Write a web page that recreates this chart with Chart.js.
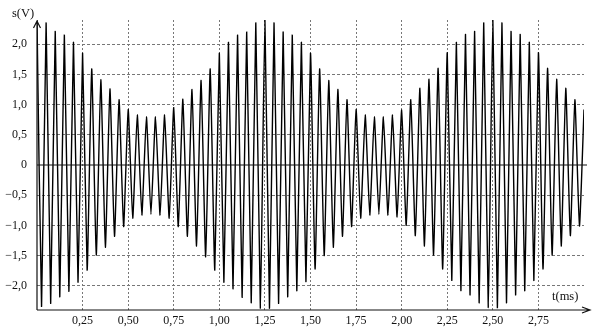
<!DOCTYPE html>
<html>
<head>
<meta charset="utf-8">
<script src="https://cdn.jsdelivr.net/npm/chart.js@4"></script>
<style>
  html, body { margin: 0; padding: 0; background: #fff; }
  #chart { display: block; }
</style>
</head>
<body>
<canvas id="chart" width="600" height="331"></canvas>
<script>
// crest values (V), one every 0.05 ms from t = 0
const peakValues = [
  2.41, 2.35, 2.21, 2.15, 2.03, 1.85, 1.59, 1.41, 1.26, 1.08,
  0.92, 0.83, 0.80, 0.80, 0.83, 0.95, 1.09, 1.25, 1.40, 1.59,
  1.85, 2.03, 2.15, 2.20, 2.35, 2.41, 2.35, 2.20, 2.15, 2.03,
  1.85, 1.59, 1.40, 1.25, 1.08, 0.92, 0.83, 0.80, 0.80, 0.83,
  0.91, 1.08, 1.27, 1.42, 1.60, 1.86, 2.03, 2.16, 2.21, 2.35,
  2.41, 2.35, 2.21, 2.16, 2.03, 1.86, 1.60, 1.42, 1.27, 1.08,
  0.92
];
// trough values (V), one every 0.05 ms from t = 0.025
const troughValues = [
  -2.34, -2.29, -2.18, -2.09, -1.94, -1.74, -1.49, -1.36, -1.18, -1.02,
  -0.88, -0.83, -0.82, -0.83, -0.88, -1.02, -1.18, -1.34, -1.52, -1.74,
  -1.94, -2.05, -2.19, -2.28, -2.37, -2.37, -2.29, -2.18, -2.08, -1.93,
  -1.72, -1.50, -1.36, -1.18, -1.02, -0.88, -0.83, -0.82, -0.83, -0.86,
  -1.00, -1.17, -1.34, -1.49, -1.72, -1.91, -2.08, -2.15, -2.28, -2.36,
  -2.36, -2.28, -2.15, -2.08, -1.91, -1.72, -1.49, -1.34, -1.17, -1.01
];
const carrierPeriod = 0.05; // ms between crests
const xTicks = [0.25, 0.5, 0.75, 1, 1.25, 1.5, 1.75, 2, 2.25, 2.5, 2.75];
const yTicks = [-2, -1.5, -1, -0.5, 0, 0.5, 1, 1.5, 2];

const points = [];
peakValues.forEach((v, k) => {
  points.push({ x: k * carrierPeriod, y: v });
  if (k < troughValues.length) {
    points.push({ x: k * carrierPeriod + carrierPeriod / 2, y: troughValues[k] });
  }
});

const fontFace = '"Liberation Serif", "DejaVu Serif", serif';
const ink = '#111';

const axesPlugin = {
  id: 'axes',
  afterDraw(chart) {
    const { ctx, chartArea } = chart;
    const xs = chart.scales.x, ys = chart.scales.y;
    const x0 = xs.getPixelForValue(0);
    const y0 = ys.getPixelForValue(0);
    ctx.save();
    ctx.strokeStyle = ink;
    ctx.lineWidth = 1.2;
    // zero line
    ctx.beginPath();
    ctx.moveTo(x0, y0);
    ctx.lineTo(chartArea.right + 3, y0);
    ctx.stroke();
    // vertical axis with arrow
    const top = chartArea.top + 1;
    ctx.beginPath();
    ctx.moveTo(x0, chartArea.bottom);
    ctx.lineTo(x0, top);
    ctx.moveTo(x0 - 3.5, top + 7);
    ctx.lineTo(x0, top);
    ctx.lineTo(x0 + 3.5, top + 7);
    ctx.stroke();
    // horizontal axis with arrow
    const tip = chartArea.right + 6;
    const yb = chartArea.bottom;
    ctx.beginPath();
    ctx.moveTo(x0, yb);
    ctx.lineTo(tip, yb);
    ctx.moveTo(tip - 8, yb - 3);
    ctx.lineTo(tip, yb);
    ctx.lineTo(tip - 8, yb + 3);
    ctx.stroke();
    // axis titles
    ctx.fillStyle = ink;
    ctx.font = '12.5px ' + fontFace;
    ctx.textBaseline = 'middle';
    ctx.textAlign = 'left';
    ctx.fillText('s(V)', 12, 14);
    ctx.fillText('t(ms)', 552, 297);
    ctx.restore();
  }
};

new Chart(document.getElementById('chart'), {
  type: 'line',
  data: {
    datasets: [{
      data: points,
      borderColor: '#000',
      borderWidth: 1.4,
      pointRadius: 0,
      tension: 0.15,
      fill: false
    }]
  },
  options: {
    responsive: false,
    animation: false,
    devicePixelRatio: 1,
    layout: { padding: { top: 20, right: 16, left: 0, bottom: 0 } },
    plugins: { legend: { display: false }, tooltip: { enabled: false } },
    scales: {
      x: {
        type: 'linear',
        min: 0,
        max: 3,
        afterBuildTicks: (scale) => { scale.ticks = xTicks.map(v => ({ value: v })); },
        afterFit: (scale) => { scale.height = 21; },
        ticks: {
          padding: 4,
          color: ink,
          font: { family: fontFace, size: 12 },
          maxRotation: 0,
          autoSkip: false,
          callback: (v) => v.toFixed(2).replace('.', ',')
        },
        grid: { color: '#777', lineWidth: 1, drawTicks: false },
        border: { display: false, dash: [2, 2] }
      },
      y: {
        type: 'linear',
        min: -2.4,
        max: 2.4,
        afterBuildTicks: (scale) => { scale.ticks = yTicks.map(v => ({ value: v })); },
        afterFit: (scale) => { scale.width = 37; },
        ticks: {
          padding: 10,
          color: ink,
          font: { family: fontFace, size: 12 },
          autoSkip: false,
          callback: (v) => v === 0 ? '0' : (v < 0 ? '\u2212' : '') + Math.abs(v).toFixed(1).replace('.', ',')
        },
        grid: {
          color: (c) => (c.tick && c.tick.value === 0) ? 'rgba(0,0,0,0)' : '#777',
          lineWidth: 1,
          drawTicks: false
        },
        border: { display: false, dash: [3, 2] }
      }
    }
  },
  plugins: [axesPlugin]
});
</script>
</body>
</html>
